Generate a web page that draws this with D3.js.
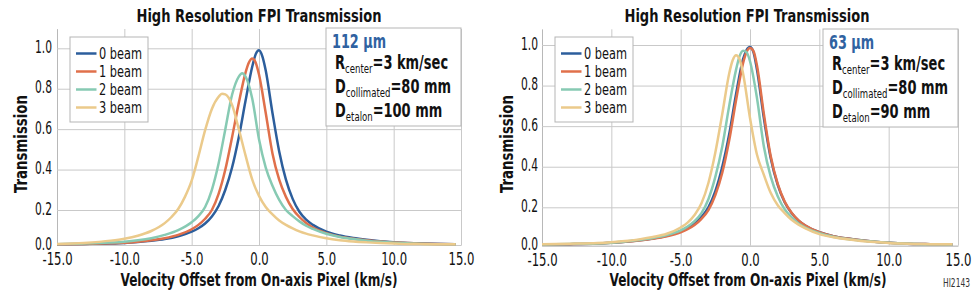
<!DOCTYPE html>
<html>
<head>
<meta charset="utf-8">
<script src="https://cdn.jsdelivr.net/npm/d3@7"></script>
<style>
  body { margin: 0; background: #fff; }
  text { font-family: "Liberation Sans Narrow", "DejaVu Sans Condensed", sans-serif; fill: #111; }
  .grid line { stroke: #c9c9c9; stroke-width: 1; }
  .grid path { stroke: #b8b8b8; stroke-width: 1; }
</style>
</head>
<body>
<svg id="chart" width="977" height="295"></svg>
<script>
    "use strict";

    var beams = ["0 beam", "1 beam", "2 beam", "3 beam"];
    var xTicks = [-15, -10, -5, 0, 5, 10, 15];
    var yTicks = [0, 0.2, 0.4, 0.6, 0.8, 1.0];

    // 112 um panel, [velocity km/s, transmission]
    var left0 = [[-15,0.004],[-13,0.006],[-11,0.009],[-10,0.012],[-9,0.017],[-8,0.024],[-7,0.034],[-6,0.05],[-5,0.076],[-4.5,0.096],[-4,0.123],[-3.5,0.163],[-3,0.22],[-2.5,0.3],[-2,0.41],[-1.5,0.56],[-1,0.74],[-0.5,0.91],[-0.25,0.97],[0,0.99],[0.25,0.96],[0.5,0.89],[1,0.68],[1.5,0.49],[2,0.35],[2.5,0.255],[3,0.19],[3.5,0.145],[4,0.115],[5,0.076],[6,0.054],[7,0.04],[8,0.03],[9,0.022],[10,0.016],[11,0.012],[12,0.009],[13,0.007],[14.6,0.005]];
    var left1 = [[-15,0.004],[-13,0.006],[-11,0.01],[-10,0.013],[-9,0.019],[-8,0.027],[-7,0.039],[-6,0.058],[-5,0.09],[-4.5,0.115],[-4,0.15],[-3.5,0.2],[-3,0.28],[-2.5,0.4],[-2,0.56],[-1.5,0.73],[-1,0.88],[-0.75,0.93],[-0.5,0.95],[-0.25,0.93],[0,0.87],[0.5,0.68],[1,0.48],[1.5,0.35],[2,0.265],[2.5,0.205],[3,0.16],[3.5,0.126],[4,0.1],[5,0.068],[6,0.048],[7,0.036],[8,0.027],[9,0.02],[10,0.015],[11,0.011],[12,0.008],[13,0.006],[14.6,0.004]];
    var left2 = [[-15,0.005],[-13,0.008],[-11,0.014],[-10,0.019],[-9,0.027],[-8,0.039],[-7,0.058],[-6,0.085],[-5,0.13],[-4.5,0.165],[-4,0.215],[-3.5,0.3],[-3,0.43],[-2.5,0.6],[-2,0.77],[-1.5,0.86],[-1.25,0.876],[-1,0.86],[-0.5,0.75],[0,0.55],[0.5,0.41],[1,0.32],[1.5,0.25],[2,0.2],[2.5,0.165],[3,0.135],[3.5,0.11],[4,0.092],[5,0.064],[6,0.046],[7,0.034],[8,0.025],[9,0.018],[10,0.013],[11,0.01],[12,0.007],[13,0.005],[14.6,0.004]];
    var left3 = [[-15,0.006],[-13,0.012],[-11,0.025],[-10,0.036],[-9,0.053],[-8,0.08],[-7,0.125],[-6.5,0.16],[-6,0.205],[-5.5,0.265],[-5,0.345],[-4.5,0.465],[-4,0.595],[-3.5,0.7],[-3,0.76],[-2.75,0.775],[-2.5,0.772],[-2,0.72],[-1.5,0.6],[-1,0.47],[-0.5,0.35],[0,0.27],[0.5,0.215],[1,0.175],[1.5,0.14],[2,0.115],[2.5,0.095],[3,0.078],[3.5,0.065],[4,0.055],[5,0.038],[6,0.027],[7,0.02],[8,0.015],[9,0.011],[10,0.008],[11,0.006],[12,0.005],[13,0.004],[14.6,0.004]];

    // 63 um panel
    var right0 = [[-15,0.006],[-13,0.008],[-11,0.012],[-10,0.016],[-9,0.021],[-8,0.028],[-7,0.038],[-6,0.052],[-5,0.075],[-4.5,0.092],[-4,0.115],[-3.5,0.15],[-3,0.2],[-2.5,0.28],[-2,0.4],[-1.5,0.56],[-1,0.76],[-0.5,0.93],[-0.25,0.975],[0,0.99],[0.25,0.965],[0.5,0.88],[1,0.64],[1.5,0.44],[2,0.31],[2.5,0.225],[3,0.17],[3.5,0.13],[4,0.104],[5,0.07],[6,0.05],[7,0.037],[8,0.028],[9,0.021],[10,0.016],[11,0.012],[12,0.009],[13,0.008],[14.6,0.006]];
    var right1 = [[-15,0.006],[-13,0.008],[-11,0.011],[-10,0.015],[-9,0.02],[-8,0.027],[-7,0.036],[-6,0.049],[-5,0.07],[-4.5,0.086],[-4,0.108],[-3.5,0.14],[-3,0.185],[-2.5,0.26],[-2,0.37],[-1.5,0.53],[-1,0.73],[-0.5,0.91],[-0.25,0.965],[0,0.985],[0.25,0.97],[0.5,0.9],[1,0.66],[1.5,0.45],[2,0.315],[2.5,0.228],[3,0.172],[3.5,0.132],[4,0.105],[5,0.07],[6,0.05],[7,0.037],[8,0.028],[9,0.021],[10,0.016],[11,0.012],[12,0.009],[13,0.008],[14.6,0.006]];
    var right2 = [[-15,0.006],[-13,0.009],[-11,0.012],[-10,0.016],[-9,0.022],[-8,0.03],[-7,0.04],[-6,0.055],[-5,0.08],[-4.5,0.1],[-4,0.128],[-3.5,0.17],[-3,0.24],[-2.5,0.35],[-2,0.5],[-1.5,0.7],[-1,0.88],[-0.75,0.945],[-0.5,0.972],[-0.25,0.965],[0,0.92],[0.5,0.74],[1,0.5],[1.5,0.35],[2,0.255],[2.5,0.19],[3,0.148],[3.5,0.116],[4,0.094],[5,0.065],[6,0.047],[7,0.035],[8,0.027],[9,0.02],[10,0.015],[11,0.012],[12,0.009],[13,0.007],[14.6,0.006]];
    var right3 = [[-15,0.007],[-13,0.01],[-11,0.014],[-10,0.018],[-9,0.024],[-8,0.033],[-7,0.045],[-6,0.062],[-5,0.095],[-4.5,0.12],[-4,0.16],[-3.5,0.22],[-3,0.32],[-2.5,0.47],[-2,0.66],[-1.5,0.86],[-1.25,0.925],[-1,0.95],[-0.75,0.93],[-0.5,0.86],[0,0.64],[0.5,0.46],[1,0.36],[1.5,0.27],[2,0.21],[2.5,0.17],[3,0.135],[3.5,0.11],[4,0.09],[5,0.06],[6,0.044],[7,0.033],[8,0.025],[9,0.019],[10,0.014],[11,0.011],[12,0.009],[13,0.008],[14.6,0.007]];

    var leftInfo = ["112 \u00b5m", "3 km/sec", "80 mm", "100 mm"];
    var rightInfo = ["63 \u00b5m", "3 km/sec", "80 mm", "90 mm"];

    var colors = ["#2c5e9c", "#e0704b", "#87cab3", "#ebca8b"];

    var svg = d3.select("#chart");

    // the condensed face of the original is narrower than what we have, so squeeze
    function squeeze(sel, f) {
        sel.each(function () {
            var w = this.getComputedTextLength();
            d3.select(this).attr("textLength", w * f).attr("lengthAdjust", "spacingAndGlyphs");
        });
    }
    function fitTo(sel, w) {
        sel.attr("textLength", w).attr("lengthAdjust", "spacingAndGlyphs");
    }

    function drawPanel(opt) {
        var g = svg.append("g");

        var x = d3.scaleLinear().domain([-15, 15]).range([opt.left, opt.right]);
        // the source image has a squeezed 0.0-0.2 band, so the scale is piecewise
        var y = d3.scaleLinear().domain([0, 0.2, 1.0, opt.yMax]).range(opt.yRange);
        var bottom = opt.yRange[0], top = opt.yRange[3];

        var xAxis = g.append("g")
            .attr("class", "grid")
            .attr("transform", "translate(0," + bottom + ")")
            .call(d3.axisBottom(x).tickValues(xTicks)
                .tickSize(-(bottom - top)).tickSizeOuter(0).tickPadding(8)
                .tickFormat(function (d) { return d.toFixed(1); }));
        xAxis.selectAll("text").style("font-size", "17px").attr("fill", "#111");
        squeeze(xAxis.selectAll("text"), 0.76);

        var yAxis = g.append("g")
            .attr("class", "grid")
            .attr("transform", "translate(" + opt.left + ",0)")
            .call(d3.axisLeft(y).tickValues(yTicks)
                .tickSize(-(opt.right - opt.left)).tickSizeOuter(0).tickPadding(opt.yPad)
                .tickFormat(function (d) { return d.toFixed(1); }));
        yAxis.selectAll("text").style("font-size", "17px").attr("dy", "0.25em").attr("fill", "#111");
        squeeze(yAxis.selectAll("text"), 0.7);

        var line = d3.line()
            .x(function (d) { return x(d[0]); })
            .y(function (d) { return y(d[1]); })
            .curve(d3.curveMonotoneX);

        g.selectAll("path.curve")
            .data(opt.series)
            .enter().append("path")
            .attr("class", "curve")
            .attr("d", line)
            .attr("fill", "none")
            .attr("stroke", function (d, i) { return colors[i]; })
            .attr("stroke-width", 2.5)
            .attr("stroke-linejoin", "round");

        // titles
        fitTo(g.append("text")
            .attr("x", (opt.left + opt.right) / 2 + opt.titleShift)
            .attr("y", 21.5)
            .attr("text-anchor", "middle")
            .style("font-size", "18.5px").style("font-weight", "bold")
            .text("High Resolution FPI Transmission"), 245);

        fitTo(g.append("text")
            .attr("x", (opt.left + opt.right) / 2 + opt.xTitleShift)
            .attr("y", 285.5)
            .attr("text-anchor", "middle")
            .style("font-size", "18px").style("font-weight", "bold")
            .text("Velocity Offset from On-axis Pixel (km/s)"), 277);

        fitTo(g.append("text")
            .attr("transform", "translate(" + opt.yTitleX + ",144) rotate(-90)")
            .attr("text-anchor", "middle")
            .style("font-size", "18px").style("font-weight", "bold")
            .text("Transmission"), 98);

        // legend
        var lg = g.append("g").attr("transform", "translate(" + opt.legend[0] + "," + opt.legend[1] + ")");
        lg.append("rect")
            .attr("width", 78).attr("height", 85)
            .attr("fill", "#fff").attr("stroke", "#b5b5b5");
        var items = lg.selectAll("g.item")
            .data(beams)
            .enter().append("g")
            .attr("class", "item")
            .attr("transform", function (d, i) { return "translate(0," + (16.5 + i * 18) + ")"; });
        items.append("line")
            .attr("x1", 6).attr("x2", 26.5)
            .attr("stroke", function (d, i) { return colors[i]; })
            .attr("stroke-width", 2.5);
        var lt = items.append("text")
            .attr("x", 29).attr("y", 5.8)
            .style("font-size", "16.5px")
            .text(function (d) { return d; });
        fitTo(lt, 43);

        // parameter box
        var ib = g.append("g").attr("transform", "translate(" + opt.info[0] + "," + opt.info[1] + ")");
        ib.append("rect")
            .attr("width", opt.right - opt.info[0]).attr("height", 98)
            .attr("fill", "#fff").attr("stroke", "#b5b5b5");
        var head = ib.append("text")
            .attr("x", 6).attr("y", 19.5)
            .style("font-size", "19px").style("font-weight", "bold")
            .style("fill", "#2f62a1")
            .text(opt.infoText[0]);
        squeeze(head, 0.75);

        var subs = ["center", "collimated", "etalon"];
        var heads = ["R", "D", "D"];
        var rows = [41, 65, 89];
        subs.forEach(function (s, i) {
            var t = ib.append("text")
                .attr("x", 9).attr("y", rows[i])
                .style("font-size", "19px").style("font-weight", "bold");
            t.append("tspan").text(heads[i]);
            t.append("tspan").attr("dy", 4).style("font-size", "12.5px").style("font-weight", "normal").text(s);
            t.append("tspan").attr("dy", -4).text("=" + opt.infoText[i + 1]);
            squeeze(t, 0.76);
        });
    }

    drawPanel({
        left: 57, right: 461, yMax: 1.096, yRange: [245, 210, 48.3, 29], yPad: 5,
        series: [left0, left1, left2, left3], titleShift: 0, xTitleShift: 0, yTitleX: 27,
        legend: [70, 37], info: [326, 28], infoText: leftInfo
    });
    drawPanel({
        left: 542, right: 958, yMax: 1.077, yRange: [245.7, 207.3, 45, 29.3], yPad: 4,
        series: [right0, right1, right2, right3], titleShift: -3, xTitleShift: -2, yTitleX: 513,
        legend: [555, 37], info: [823, 29], infoText: rightInfo
    });

    fitTo(svg.append("text")
        .attr("x", 970).attr("y", 287)
        .attr("text-anchor", "end")
        .style("font-size", "12px")
        .style("fill", "#333")
        .text("HI2143"), 27);
</script>
</body>
</html>
